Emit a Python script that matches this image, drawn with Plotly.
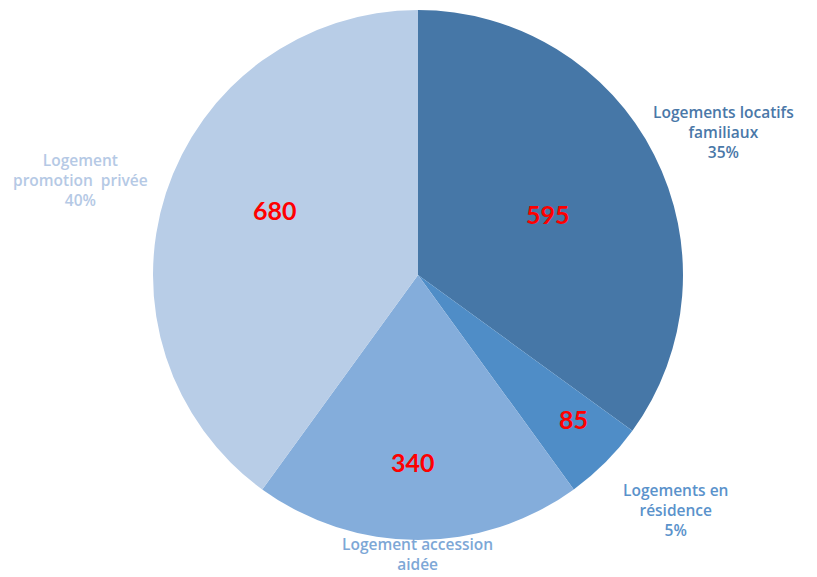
import math
import plotly.graph_objects as go

labels = ["Logements locatifs<br>familiaux", "Logements en<br>résidence",
          "Logement accession<br>aidée", "Logement<br>promotion  privée"]
values = [595, 85, 340, 680]
slice_colors = ["#4677A7", "#4F8DC7", "#84ADDB", "#B8CDE7"]
label_colors = ["#4A78A8", "#5A92CB", "#7DA7D6", "#B5C9E5"]

W, H = 817, 577
OFF = 8                      # page body margin in the browser
CX, CY, R = 418, 275, 265    # pie centre / radius (screen pixels)


def px2paper(x, y):
    return (x - OFF) / W, 1 - (y - OFF) / H


total = sum(values)
pcts = [round(v / total * 100) for v in values]

x0, y1 = px2paper(CX - R, CY - R)
x1, y0 = px2paper(CX + R, CY + R)
fig = go.Figure(go.Pie(
    labels=labels,
    values=values,
    sort=False,
    direction="clockwise",
    rotation=0,
    marker=dict(colors=slice_colors, line=dict(color="white", width=0)),
    textinfo="none",
    domain=dict(x=[x0, x1], y=[y0, y1]),
    showlegend=False,
    hoverinfo="label+value+percent",
))

# value labels placed near each slice's bisector
radial_frac = [0.54, 0.80, 0.71, 0.59]
angle_shift = [2, -2, 1.5, 6]   # degrees
cum = 0
for v, rf, da in zip(values, radial_frac, angle_shift):
    mid = math.radians((cum + v / 2) / total * 360 + da)
    cum += v
    px = CX + rf * R * math.sin(mid)
    py = CY - rf * R * math.cos(mid) - 1
    ax, ay = px2paper(px, py)
    fig.add_annotation(x=ax, y=ay, xref="paper", yref="paper",
                       text=str(v), showarrow=False,
                       xanchor="center", yanchor="middle",
                       font=dict(family="Lato", size=25, color="#FF0000",
                                 weight="bold"))

# outside category labels (screen pixel centres)
label_pos = [(723, 132), (675, 510), (417, 554), (80, 180)]
for i, ((x, y), lab, p, c) in enumerate(zip(label_pos, labels, pcts,
                                             label_colors)):
    txt = lab if i == 2 else f"{lab}<br>{p}%"
    ax, ay = px2paper(x, y)
    fig.add_annotation(x=ax, y=ay, xref="paper", yref="paper",
                       text=txt, showarrow=False,
                       align="center", xanchor="center", yanchor="middle",
                       font=dict(family="Open Sans", size=15.5, color=c,
                                 weight=600))

fig.update_layout(width=W, height=H, margin=dict(l=0, r=0, t=0, b=0),
                  paper_bgcolor="white", plot_bgcolor="white")
fig.write_html("out.html")
